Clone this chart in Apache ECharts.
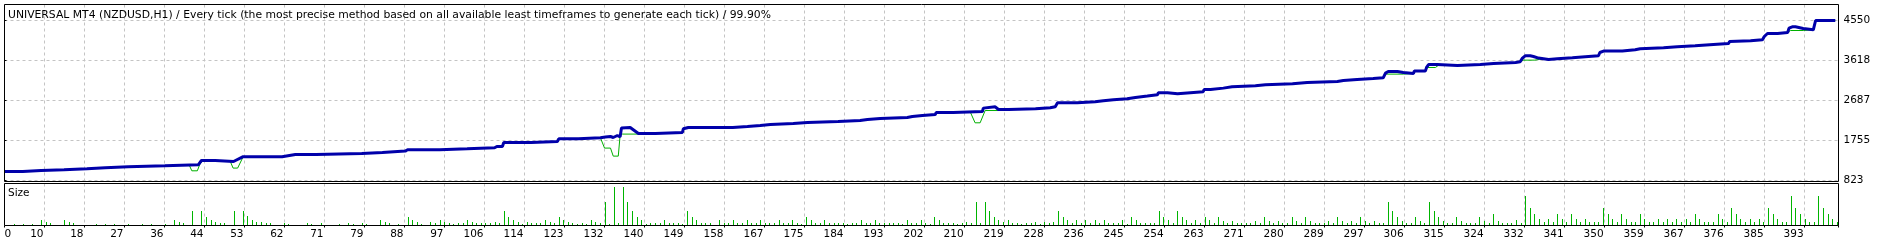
<!DOCTYPE html>
<html><head><meta charset="utf-8">
<script src="https://cdn.jsdelivr.net/npm/echarts@6/dist/echarts.min.js"></script>
<style>html,body{margin:0;padding:0;background:#fff;}#c{width:1893px;height:245px;}</style>
</head><body><div id="c"></div>
<script>
const titleText = 'UNIVERSAL MT4 (NZDUSD,H1) / Every tick (the most precise method based on all available least timeframes to generate each tick) / 99.90%';
const panelLabel = 'Size';
const xTickLabels = ['0','10','18','27','36','44','53','62','71','79','88','97','106','114','123','132','140','149','158','167','175','184','193','202','210','219','228','236','245','254','263','271','280','289','297','306','315','324','332','341','350','359','367','376','385','393'];
const yTickValues = [823, 1755, 2687, 3618, 4550];

// balance curve: [trade number, balance]
const balance = [
[0,1033],[4,1033],[4.1,1056],[8,1056],[8.2,1072],[13,1072],[13.3,1096],[18,1096],[18.3,1119],[22,1119],[22.4,1142],[27,1142],[27.4,1165],[35,1165],[35.3,1189],[42.3,1189],[43,1289],[46,1289],[46.3,1266],[50,1266],[50.4,1298],[52,1375],[60.6,1375],[61,1398],[63.5,1429],[68,1429],[68.3,1452],[78,1452],[78.3,1475],[82.5,1475],[82.7,1508],[87.5,1508],[88,1538],[95,1538],[95.2,1561],[101,1561],[101.2,1585],[107,1585],[107.5,1615],[108.7,1615],[109,1708],[115,1708],[115.2,1731],[120.7,1731],[121,1794],[125.3,1794],[125.5,1818],[130.1,1818],[130.3,1834],[131.2,1834],[131.4,1848],[132.3,1848],[132.5,1825],[132.9,1825],[133.1,1871],[133.8,1871],[134,1841],[134.4,1841],[134.7,2044],[135.1,2058],[136.6,2058],[138.4,1918],[142.1,1918],[142.3,1941],[148,1941],[148.2,2027],[149.3,2058],[159,2058],
[159.2,2081],[162.2,2081],[162.4,2104],[165,2104],[165.2,2127],[167.2,2127],[167.4,2151],[172.2,2151],[172.4,2174],[175.3,2174],[175.5,2197],[182,2197],[182.2,2221],[186.8,2221],[187,2244],[188.4,2244],[188.6,2267],[191.2,2267],[191.4,2291],[197.1,2291],[197.3,2314],[198.2,2314],[198.4,2337],[200.4,2337],[200.6,2360],[203.2,2360],[203.4,2407],[207.1,2407],[207.3,2430],[213.5,2430],[213.7,2509],[214.1,2540],[216.3,2540],[216.6,2509],[217,2477],[219.2,2477],[219.4,2493],[225.1,2493],[225.3,2516],[228.3,2516],[228.6,2540],[229.4,2540],[229.9,2633],[234.2,2633],[234.4,2656],[238.1,2656],[238.3,2680],[239.9,2680],[240.1,2703],[242.1,2703],[242.3,2726],[245.1,2726],[245.3,2756],[246.9,2756],[247.1,2789],[249.5,2789],[249.7,2819],[251.7,2819],[251.9,2866],[253.9,2866],[254.1,2843],[256.1,2843],[256.3,2889],[261.7,2889],[261.9,2943],[263.3,2943],
[263.6,2975],[266.1,2975],[266.3,3006],[268,3006],[268.2,3029],[273.1,3029],[273.3,3052],[275.3,3052],[275.5,3075],[281.2,3075],[281.4,3106],[284.4,3106],[284.6,3129],[291,3129],[291.2,3152],[292.3,3152],[292.5,3176],[295.3,3176],[295.5,3199],[298.8,3199],[299,3215],[301,3215],[301.5,3325],[302.1,3362],[304.1,3362],[304.3,3339],[305.4,3339],[305.6,3315],[307.6,3315],[307.8,3371],[310.2,3371],[310.5,3465],[310.9,3525],[312.8,3525],[313,3502],[317.2,3502],[317.4,3525],[322.2,3525],[322.4,3548],[325.1,3548],[325.3,3572],[329.9,3572],[330.1,3588],[330.9,3588],[331.2,3595],[331.4,3674],[332,3728],[333.1,3728],[333.3,3711],[333.8,3711],[334,3674],[334.9,3674],[335.1,3642],[337.1,3642],[337.3,3658],[339,3658],[339.2,3681],[342.3,3681],[342.5,3704],[345.1,3704],[345.3,3728],[348,3728],[348.3,3805],[349.1,3837],[353.2,3837],[353.4,3868],[356,3868],[356.2,3891],[357.1,3891],[357.3,3914],[362.2,3914],[362.4,3937],[365.2,3937],[365.4,3961],[369.1,3961],[369.3,3991],[373.1,3991],[373.3,4014],[376.4,4014],[376.6,4061],[376.8,4077],[381.2,4077],[381.4,4100],[383.8,4100],[384.2,4177],[384.9,4247],[387.1,4247],[387.3,4270],[389.3,4270],[389.6,4373],[390.3,4403],[391,4403],[391.2,4364],[392.7,4364],[392.9,4333],[394.9,4333],[395.4,4550],[399.7,4550]
];

// equity drawdown segments where equity leaves the balance line: [trade, equity]
const equityDip1 = [[40.3,1189],[40.9,1049],[42.1,1049],[42.6,1189],[43.1,1266],[46,1266]];
const equityDip2 = [[49.3,1266],[49.9,1112],[50.9,1112],[52.1,1375]];
const equityDip3 = [[130.1,1818],[131.0,1578],[132.3,1578],[132.9,1391],[134.0,1391],[134.4,1871],[134.9,1904],[138.4,1904],[138.6,1918]];
const equityDip4 = [[210.8,2430],[211.9,2167],[213,2167],[214.1,2453],[217,2453],[217.2,2477]];
const equityDip5 = [[301,3215],[301.5,3301],[305.4,3301],[305.6,3315]];
const equityDip6 = [[310.2,3371],[310.6,3455],[312.4,3455],[313,3502]];
const equityDip7 = [[331.2,3595],[331.6,3627],[334,3627],[335.1,3642]];
const equityDip8 = [[389.3,4270],[389.9,4317],[392.7,4317],[392.9,4333]];

// lot size per trade: [trade, size]
const sizes = [
[2,.02],[4,.02],[6,.02],[8,.055],[9,.035],[10,.03],[13,.055],[14,.035],[15,.03],[20,.02],[22,.02],[24,.02],[27,.02],[30,.02],[32,.02],[35,.02],[37,.055],[38,.035],[39,.03],[41,.145],[43,.145],[44,.09],[45,.055],[46,.04],[47,.03],[48,.025],[50,.145],[52,.145],[53,.10],[54,.06],[55,.04],[56,.035],[57,.03],[58,.025],[61,.03],[62,.02],[66,.03],
[67,.02],[69,.025],[73,.02],[75,.025],[76,.02],[78,.025],[79,.02],[82,.055],[83,.035],[84,.025],[86,.02],[88,.085],[89,.055],[90,.035],[91,.02],[93,.035],[94,.025],[95,.055],[96,.035],[97,.025],[98,.02],[99,.03],[100,.025],[101,.055],[102,.035],[103,.025],[104,.03],[105,.025],[106,.03],[107,.035],[108,.025],[109,.145],[110,.085],[111,.055],[112,.035],[113,.02],[114,.035],[115,.025],[116,.03],[117,.025],[118,.055],[119,.04],[120,.03],[121,.085],[122,.055],[123,.035],[124,.03],[125,.02],[126,.03],[127,.02],[128,.055],[129,.035],[130,.03],[131,.235],
[132,.02],[133,.385],[134,.03],[135,.385],[136,.235],[137,.145],[138,.085],[139,.055],[140,.02],[141,.025],[142,.03],[143,.025],[144,.055],[145,.03],[146,.025],[147,.03],[148,.02],[149,.145],[150,.085],[151,.055],[152,.03],[153,.025],[154,.025],[156,.055],[157,.03],[158,.025],[159,.055],[160,.03],[161,.03],[162,.055],[163,.03],[164,.03],[165,.055],[166,.03],[167,.025],[168,.025],[169,.055],[170,.03],[171,.025],[172,.055],[173,.03],[174,.02],[175,.085],[176,.055],[177,.03],[178,.025],[179,.055],[180,.03],[181,.025],[182,.03],[183,.025],[184,.02],[185,.03],[186,.03],[187,.055],[188,.03],[189,.025],[190,.055],[191,.03],[192,.025],[193,.025],[194,.025],[195,.025],[196,.02],
[197,.055],[198,.03],[199,.025],[200,.055],[201,.03],[202,.02],[203,.085],[204,.055],[205,.03],[206,.025],[207,.03],[208,.02],[209,.025],[210,.035],[211,.025],[212,.235],[213,.025],[214,.235],[215,.145],[216,.085],[217,.055],[218,.035],[219,.055],[220,.03],[221,.025],[222,.02],[223,.03],[224,.025],[225,.035],[226,.02],[227,.035],[228,.025],[229,.035],[230,.145],[231,.085],[232,.055],[233,.03],[234,.055],[235,.03],[236,.055],[237,.03],[238,.055],[239,.03],[240,.055],[241,.03],[242,.03],[243,.03],[244,.055],[245,.02],[246,.085],[247,.055],[248,.03],[249,.03],[250,.03],[251,.03],[252,.145],[253,.085],[254,.055],[255,.03],[256,.145],[257,.085],[258,.055],[259,.03],[260,.055],[261,.03],[262,.085],[263,.055],[264,.03],
[265,.085],[266,.05],[267,.03],[268,.05],[269,.03],[270,.03],[271,.03],[272,.03],[273,.05],[274,.03],[275,.085],[276,.05],[277,.03],[278,.05],[279,.03],[280,.03],[281,.085],[282,.05],[283,.03],[284,.085],[285,.05],[286,.03],[287,.03],[288,.03],[289,.05],[290,.03],[291,.085],[292,.05],[293,.03],[294,.05],[295,.03],[296,.085],[297,.05],[298,.03],[299,.05],[300,.03],[301,.03],[302,.235],[303,.145],[304,.085],[305,.05],[306,.03],[307,.03],[308,.085],[309,.05],[310,.03],[311,.235],[312,.145],[313,.085],[314,.05],[315,.03],[316,.03],[317,.085],[318,.05],[319,.03],[320,.03],[321,.03],[322,.085],[323,.05],[324,.03],[325,.115],[326,.05],[327,.03],[328,.03],[329,.03],[330,.06],[331,.03],
[332,.295],[333,.175],[334,.115],[335,.065],[336,.04],[337,.065],[338,.04],[339,.115],[340,.065],[341,.04],[342,.115],[343,.065],[344,.04],[345,.065],[346,.04],[347,.04],[348,.04],[349,.175],[350,.115],[351,.065],[352,.04],[353,.115],[354,.065],[355,.04],[356,.04],[357,.115],[358,.065],[359,.04],[360,.04],[361,.065],[362,.04],[363,.065],[364,.04],[365,.065],[366,.04],[367,.065],[368,.04],[369,.115],[370,.065],[371,.04],[372,.04],[373,.04],[374,.115],[375,.065],[376,.04],[377,.175],[378,.115],[379,.065],[380,.04],[381,.065],[382,.04],[383,.065],[384,.04],[385,.175],[386,.115],[387,.065],[388,.04],[389,.04],[390,.295],[391,.175],[392,.115],[393,.065],[394,.04],[395,.04],[396,.295],[397,.175],[398,.115],[399,.065],[400,.04]
];

const FONT = 'DejaVu Sans';
const FS = 10.5;
const STEP = 393 / 45;
const X_MAX = 400.4;
const PX_PER_UNIT = 40 / (yTickValues[1] - yTickValues[0]);
const Y_MIN = yTickValues[0] - 1 / PX_PER_UNIT;
const Y_MAX = yTickValues[4] + 16 / PX_PER_UNIT;

function buildEquity(bal, dips) {
  const out = bal.filter(p => !dips.some(d => p[0] >= d[0][0] && p[0] <= d[d.length - 1][0]));
  dips.forEach(d => d.forEach(p => out.push(p)));
  out.sort((a, b) => a[0] - b[0]);
  return out;
}
const equity = buildEquity(balance, [equityDip1, equityDip2, equityDip3, equityDip4, equityDip5, equityDip6, equityDip7, equityDip8]);

const gridLine = { show: true, lineStyle: { color: '#c4c4c4', type: [3, 3], width: 1 } };
const txt = { fontFamily: FONT, fontSize: FS, color: '#000', fontWeight: 'normal' };

const chart = echarts.init(document.getElementById('c'), null, { renderer: 'canvas' });
chart.setOption({
  backgroundColor: '#fff',
  animation: false,
  title: [
    { text: titleText, left: 8, top: 8.5, padding: 0, textStyle: Object.assign({}, txt, { fontSize: 10.8, lineHeight: 13 }) },
    { text: panelLabel, left: 8, top: 187, padding: 0, textStyle: Object.assign({ lineHeight: 13 }, txt) }
  ],
  grid: [
    { left: 4.5, top: 4.5, width: 1834, height: 177, show: true, borderColor: '#000', borderWidth: 1, backgroundColor: 'transparent', z: 5 },
    { left: 4.5, top: 183.5, width: 1834, height: 42, show: true, borderColor: '#000', borderWidth: 1, backgroundColor: 'transparent', z: 5 }
  ],
  xAxis: [
    { gridIndex: 0, type: 'value', min: 0, max: X_MAX, interval: STEP,
      axisLine: { show: false }, axisTick: { show: false }, axisLabel: { show: false }, splitLine: gridLine },
    { gridIndex: 1, type: 'value', min: 0, max: X_MAX, interval: STEP,
      axisLine: { show: false },
      axisTick: { show: true, length: 2, lineStyle: { color: '#000', width: 1 } },
      axisLabel: Object.assign({ show: true, margin: 3, align: 'right', alignMinLabel: 'left', padding: [0, 1, 0, 0],
        formatter: v => { const i = Math.round(v / STEP); return (Math.abs(v - i * STEP) < 0.01 && xTickLabels[i] !== undefined) ? xTickLabels[i] : ''; } }, txt),
      splitLine: gridLine }
  ],
  yAxis: [
    { gridIndex: 0, type: 'value', position: 'right', min: Y_MIN, max: Y_MAX,
      axisLine: { show: false },
      axisTick: { show: true, length: 2, customValues: yTickValues, lineStyle: { color: '#000', width: 1 } },
      axisLabel: Object.assign({ show: true, margin: 5, customValues: yTickValues, padding: [2, 0, 0, 0], formatter: v => String(Math.round(v)) }, txt),
      splitLine: gridLine },
    { gridIndex: 1, type: 'value', min: 0, max: 0.42, show: false, splitLine: { show: false } }
  ],
  series: [
    { name: 'Equity', type: 'line', xAxisIndex: 0, yAxisIndex: 0, data: equity, symbol: 'none', silent: true,
      lineStyle: { color: '#00b000', width: 1 }, z: 2 },
    { name: 'Balance', type: 'line', xAxisIndex: 0, yAxisIndex: 0, data: balance, symbol: 'none', silent: true,
      lineStyle: { color: '#0000aa', width: 3 }, z: 3 },
    { name: 'Size', type: 'custom', xAxisIndex: 1, yAxisIndex: 1, data: sizes, silent: true, z: 2,
      encode: { x: 0, y: 1 },
      renderItem: (params, api) => {
        const top = api.coord([api.value(0), api.value(1)]);
        const base = api.coord([api.value(0), 0]);
        const x = Math.round(top[0]);
        const y0 = Math.round(top[1]);
        const y1 = Math.round(base[1]);
        return { type: 'rect', shape: { x: x, y: y0, width: 1, height: y1 - y0 }, style: { fill: '#00b400' } };
      } }
  ]
});
</script></body></html>
